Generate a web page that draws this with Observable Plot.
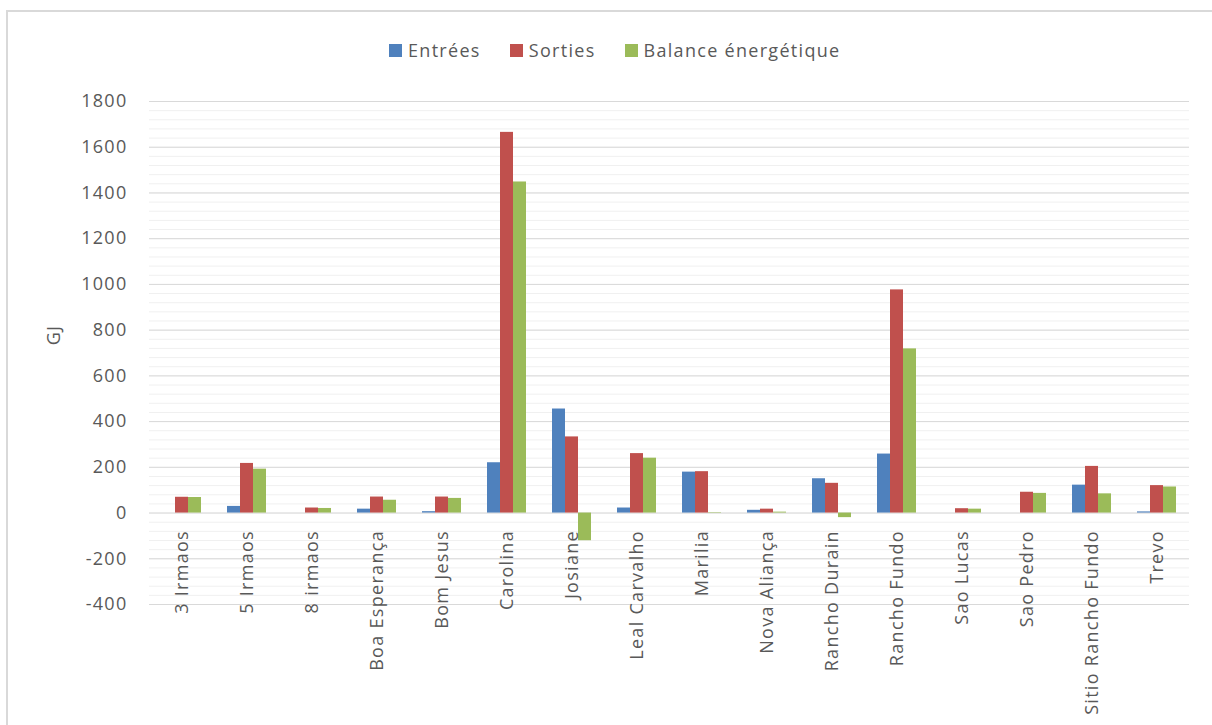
<!DOCTYPE html>
<html>
<head>
<meta charset="utf-8">
<script src="https://cdn.jsdelivr.net/npm/d3@7"></script>
<script src="https://cdn.jsdelivr.net/npm/@observablehq/plot@0.6"></script>
<style>
  html, body { margin: 0; padding: 0; background: #fff; }
  body { width: 1212px; height: 725px; overflow: hidden; position: relative; font-family: "Open Sans", sans-serif; }
  #frame { position: absolute; left: 6px; top: 10px; width: 1300px; height: 800px; border-left: 2px solid #d9d9d9; border-top: 2px solid #d9d9d9; pointer-events: none; }
  #legend { position: absolute; left: 389px; top: 36px; height: 28px; display: flex; align-items: center; gap: 29px; font-size: 18px; letter-spacing: 1.3px; color: #595959; white-space: nowrap; }
  #legend .item { display: flex; align-items: center; gap: 6px; }
  #legend .sw { width: 13px; height: 13px; display: inline-block; }
  #chart { position: absolute; left: 0; top: 80px; width: 1212px; height: 645px; }
  #chart svg { display: block; max-width: none !important; width: 1212px !important; height: 645px !important; }
  #chart svg text { letter-spacing: 1.3px; }
</style>
</head>
<body>
<div id="legend"></div>
<div id="chart"></div>
<div id="frame"></div>
<script>
const categories = ["3 Irmaos","5 Irmaos","8 irmaos","Boa Esperança","Bom Jesus","Carolina","Josiane","Leal Carvalho","Marilia","Nova Aliança","Rancho Durain","Rancho Fundo","Sao Lucas","Sao Pedro","Sitio Rancho Fundo","Trevo"];
const seriesNames = ["Entrées","Sorties","Balance énergétique"];
const entrees = [0, 29, 0, 17, 6, 220, 455, 22, 179, 12, 150, 258, 0, 0, 122, 5];
const sorties = [69, 217, 22, 70, 70, 1665, 333, 260, 181, 17, 130, 976, 19, 91, 204, 120];
const balance = [68, 192, 20, 56, 64, 1448, -121, 240, 2, 4, -20, 718, 17, 86, 84, 114];
const colors = ["#4F81BD", "#C0504D", "#9BBB59"];
const yTicks = [-400, -200, 0, 200, 400, 600, 800, 1000, 1200, 1400, 1600, 1800];
const yMinor = d3.range(-400, 1801, 40);
const yLabel = "GJ";

const values = [entrees, sorties, balance];
const data = [];
categories.forEach((c, i) => {
  seriesNames.forEach((s, j) => data.push({cat: c, series: s, value: values[j][i]}));
});

// Legend
const legend = document.getElementById("legend");
seriesNames.forEach((s, j) => {
  const it = document.createElement("div");
  it.className = "item";
  it.innerHTML = `<span class="sw" style="background:${colors[j]}"></span><span>${s}</span>`;
  legend.appendChild(it);
});

const chart = Plot.plot({
  width: 1212,
  height: 645,
  marginLeft: 148,
  marginRight: 23,
  marginTop: 21,
  marginBottom: 121,
  style: "font-family: 'Open Sans', sans-serif; font-size: 18px; color: #595959; background: transparent; overflow: visible; max-width: none;",
  fx: {domain: categories, padding: 0, axis: null},
  x: {domain: seriesNames, paddingInner: 0, paddingOuter: 1, axis: null},
  y: {domain: [-400, 1800], axis: null},
  color: {domain: seriesNames, range: colors},
  marks: [
    Plot.ruleY(yMinor, {stroke: "#f0f0f0", strokeWidth: 1}),
    Plot.ruleY(yTicks, {stroke: "#d9d9d9", strokeWidth: 1}),
    Plot.barY(data, {fx: "cat", x: "series", y: "value", fill: "series"}),
    Plot.axisY(yTicks, {anchor: "left", tickSize: 0, tickPadding: 22, label: null, tickFormat: d => String(d), fill: "#595959"}),
    Plot.text(categories, {fx: d => d, y: () => 0, text: d => d, rotate: -90, textAnchor: "end", lineAnchor: "middle", dy: 17, fill: "#595959"}),
    Plot.text([yLabel], {fx: () => categories[0], frameAnchor: "left", text: d => d, rotate: -90, textAnchor: "middle", lineAnchor: "middle", dx: -95, dy: -18, fill: "#595959"})
  ]
});
document.getElementById("chart").appendChild(chart);
</script>
</body>
</html>
